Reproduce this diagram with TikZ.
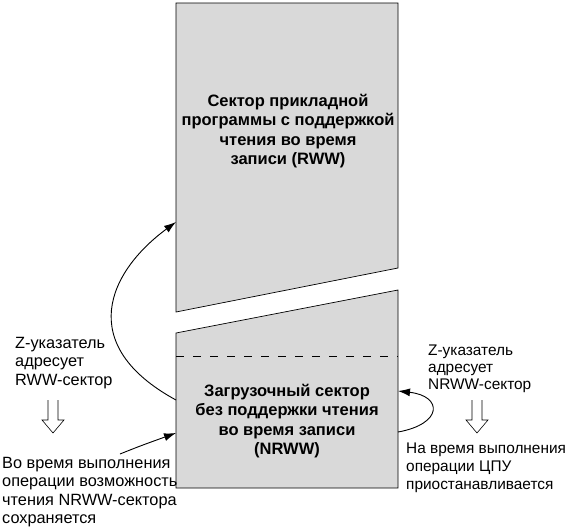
\documentclass[tikz,border=0pt]{standalone}
\usepackage{fontspec}
\setmainfont{Liberation Sans}
\usetikzlibrary{arrows.meta,positioning}
\begin{document}
\begin{tikzpicture}[x=1pt,y=-1pt,
        sector/.style={draw=black, line width=0.7pt, fill=black!15},
        sectortext/.style={font=\fontsize{16.5}{19.5}\selectfont\bfseries, align=center, inner sep=0pt},
        note/.style={font=\fontsize{16.3}{18.3}\selectfont, align=left, inner sep=0pt, anchor=north west},
        rightnote/.style={note, font=\fontsize{15.4}{18}\selectfont},
        hollow/.style={draw=black, line width=0.6pt, fill=white},
        link/.style={line width=0.9pt, -{Latex[length=12pt,width=8pt]}}]
            \def\rww{(176,3) -- (398,3) -- (398,268) -- (176,312) -- cycle}
            \def\nrww{(176,333) -- (398,290) -- (398,488) -- (176,488) -- cycle}
            \def\hollowdown#1{(#1-5,400) -- (#1-5,420) -- (#1-11,420) -- (#1,433) -- (#1+11,420) -- (#1+5,420) -- (#1+5,400)}

            \useasboundingbox (0,0) rectangle (568,528);
            \filldraw[sector] \rww;
            \filldraw[sector] \nrww;
            \draw[dash pattern=on 8pt off 9pt] (176,356) -- (398,356);

            \node[sectortext] (rwwtext) at (288,131) {Сектор прикладной\\программы с поддержкой\\чтения во время\\записи (RWW)};
            \node[sectortext] (nrwwtext) at (287,421) {Загрузочный сектор\\без поддержки чтения\\во время записи\hspace{1.2em}\\(NRWW)};

            \node[note] (zrww) at (15,337) {Z-указатель\\адресует\\RWW-сектор};
            \node[note] (rwwnote) at (2,457) {Во время выполнения\\операции возможность\\чтения NRWW-сектора\\сохраняется};
            \node[rightnote, font=\fontsize{15.4}{16.7}\selectfont] (znrww) at (428,345) {Z-указатель\\адресует\\NRWW-сектор};
            \node[rightnote] (nrwwnote) at (406,443) {На время выполнения\\операции ЦПУ\\приостанавливается};

            \filldraw[hollow] \hollowdown{53};
            \filldraw[hollow] \hollowdown{477};

            \coordinate (rwwin) at (176,222);
            \coordinate (nrwwleft) at (176,400);
            \coordinate (nrwwin) at (176,433);
            \coordinate (noteout) at (120,454);
            \coordinate (nrwwright) at (398,432);
            \coordinate (nrwwback) at (398,391);

            \draw[link] (nrwwleft) .. controls (75,345) and (108,272) .. (rwwin);
            \draw[link] (noteout) .. controls (140,446) .. (nrwwin);
            \draw[link] (nrwwright) .. controls (443,424) and (443,396) .. (nrwwback);
        \end{tikzpicture}
\end{document}
